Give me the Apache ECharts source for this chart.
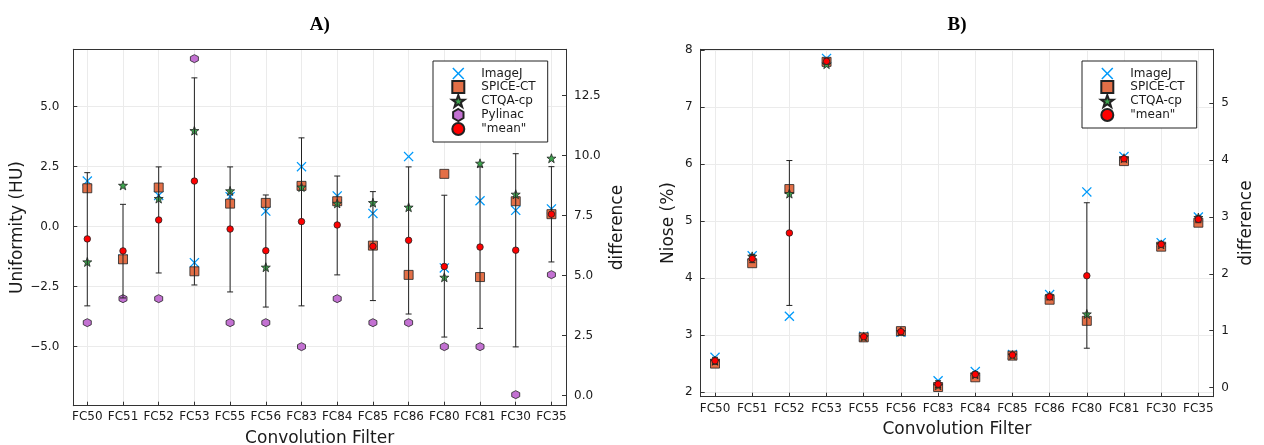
<!DOCTYPE html>
<html>
<head>
<meta charset="utf-8">
<script src="https://cdn.jsdelivr.net/npm/echarts@6/dist/echarts.min.js"></script>
<style>
html,body{margin:0;padding:0;background:#fff;}
#c{width:1264px;height:445px;}
</style>
</head>
<body>
<div id="c"></div>
<script>
// ---------- data ----------
const categories = ['FC50','FC51','FC52','FC53','FC55','FC56','FC83','FC84','FC85','FC86','FC80','FC81','FC30','FC35'];

// Panel A: uniformity (HU)
const imagejU  = [1.9, -1.35, 1.3, -1.5, 1.25, 0.65, 2.5, 1.28, 0.55, 2.92, -1.72, 1.08, 0.68, 0.74];
const spiceU   = [1.6, -1.36, 1.63, -1.86, 0.96, 0.99, 1.7, 1.06, -0.79, -2.01, 2.2, -2.1, 1.06, 0.52];
const ctqaU    = [-1.47, 1.72, 1.17, 4.0, 1.49, -1.69, 1.65, 0.97, 1.0, 0.81, -2.11, 2.64, 1.35, 2.85];
const pylinacU = [-4, -3, -3, 7, -4, -4, -5, -3, -4, -4, -5, -5, -7, -2];
const meanU    = [-0.51, -1.01, 0.28, 1.9, -0.1, -1.0, 0.21, 0.07, -0.82, -0.57, -1.66, -0.85, -0.98, 0.52];
const errLoU   = [-3.3, -2.97, -1.93, -2.43, -2.72, -3.35, -3.3, -2.01, -3.08, -3.64, -4.6, -4.24, -5.01, -1.47];
const errHiU   = [2.25, 0.93, 2.49, 6.2, 2.49, 1.32, 3.7, 2.11, 1.46, 2.49, 1.31, 2.49, 3.04, 2.5];

// Panel B: noise (%)
const imagejN = [2.61, 4.39, 3.33, 7.85, 2.98, 3.05, 2.2, 2.36, 2.66, 3.71, 5.51, 6.13, 4.62, 5.07];
const spiceN  = [2.50, 4.26, 5.56, 7.79, 2.96, 3.07, 2.09, 2.26, 2.64, 3.62, 3.25, 6.05, 4.55, 4.97];
const ctqaN   = [2.55, 4.38, 5.48, 7.75, 2.97, 3.06, 2.12, 2.31, 2.65, 3.69, 3.37, 6.1, 4.59, 5.06];
const meanN   = [2.55, 4.34, 4.79, 7.8, 2.97, 3.06, 2.14, 2.31, 2.65, 3.67, 4.04, 6.09, 4.59, 5.03];
const errLoN  = [2.49, 4.27, 3.52, 7.75, 2.96, 3.05, 2.08, 2.26, 2.64, 3.62, 2.77, 6.05, 4.55, 4.97];
const errHiN  = [2.61, 4.41, 6.06, 7.85, 2.98, 3.07, 2.2, 2.36, 2.66, 3.72, 5.32, 6.13, 4.63, 5.09];

// tick labels
const uniTicks   = [-5, -2.5, 0, 2.5, 5];
const diffTicksA = [0, 2.5, 5, 7.5, 10, 12.5];
const noiseTicks = [2, 3, 4, 5, 6, 7, 8];
const diffTicksB = [0, 1, 2, 3, 4, 5];

// ---------- styling ----------
const FONT = 'DejaVu Sans';
const AX = '#333';
const GRIDC = '#ebebeb';
const TXT = '#1a1a1a';
const NAMESIZE = 17;
const catIdx = categories.map((_, i) => i);
const X_SYM = 'path://M0,0.9L0.9,0L5,4.1L9.1,0L10,0.9L5.9,5L10,9.1L9.1,10L5,5.9L0.9,10L0,9.1L4.1,5Z';
const STAR = 'path://M50,0L61.76,33.82L97.55,34.55L69.02,56.18L79.39,90.45L50,70L20.61,90.45L30.98,56.18L2.45,34.55L38.24,33.82Z';
const HEX = 'path://M50,0L93.3,25L93.3,75L50,100L6.7,75L6.7,25Z';
const SQR = 'path://M0,0L10,0L10,10L0,10Z';

const minus = s => String(s).replace('-', '\u2212');
const fmt1 = v => minus(Number(v).toFixed(1));
const fmt0 = v => minus(Number(v).toFixed(0));

function pts(arr) { return arr.map((v, i) => [i, v]); }
function errs(lo, hi) { return lo.map((v, i) => [i, v, hi[i]]); }

function errRender(params, api) {
  const x = api.value(0);
  const p1 = api.coord([x, api.value(1)]);
  const p2 = api.coord([x, api.value(2)]);
  const c = 3;
  const st = {stroke: '#222', lineWidth: 1};
  return {type: 'group', children: [
    {type: 'line', shape: {x1: p1[0], y1: p1[1], x2: p2[0], y2: p2[1]}, style: st},
    {type: 'line', shape: {x1: p1[0]-c, y1: p1[1], x2: p1[0]+c, y2: p1[1]}, style: st},
    {type: 'line', shape: {x1: p2[0]-c, y1: p2[1], x2: p2[0]+c, y2: p2[1]}, style: st}
  ]};
}

function xAxisBottom(grid, min, max, margin, gap) {
  return {
    type: 'value', gridIndex: grid, position: 'bottom', min: min, max: max,
    axisLine: {show: true, onZero: false, lineStyle: {color: AX, width: 1}},
    axisTick: {show: true, inside: true, length: 4, customValues: catIdx, lineStyle: {color: AX}},
    axisLabel: {customValues: catIdx, formatter: v => categories[Math.round(v)], fontFamily: FONT, fontSize: 12, color: TXT, margin: margin},
    splitLine: {show: true, lineStyle: {color: GRIDC, width: 1}},
    name: 'Convolution Filter', nameLocation: 'middle', nameGap: gap,
    nameTextStyle: {fontFamily: FONT, fontSize: NAMESIZE, color: TXT}
  };
}
function xAxisTop(grid, min, max) {
  return {
    type: 'value', gridIndex: grid, position: 'top', min: min, max: max,
    axisLine: {show: true, onZero: false, lineStyle: {color: AX, width: 1}},
    axisTick: {show: false}, axisLabel: {show: false}, splitLine: {show: false}
  };
}
function yAxis(grid, pos, min, max, ticks, fmt, name, gap, split, margin) {
  return {
    type: 'value', gridIndex: grid, position: pos, min: min, max: max,
    axisLine: {show: true, onZero: false, lineStyle: {color: AX, width: 1}},
    axisTick: {show: true, inside: true, length: 4, customValues: ticks, lineStyle: {color: AX}},
    axisLabel: {customValues: ticks, formatter: fmt, fontFamily: FONT, fontSize: 12, color: TXT, margin: margin},
    splitLine: {show: split, lineStyle: {color: GRIDC, width: 1}},
    name: name, nameLocation: 'middle', nameGap: gap, nameRotate: 90,
    nameTextStyle: {fontFamily: FONT, fontSize: NAMESIZE, color: TXT}
  };
}

const stroke = {borderColor: '#222', borderWidth: 0.8, opacity: 1};
function sImageJ(d, xi, yi) { return {name: 'ImageJ', type: 'scatter', xAxisIndex: xi, yAxisIndex: yi, data: d, symbol: X_SYM, symbolSize: 10, itemStyle: {color: '#009AFA', opacity: 1}, z: 2}; }
function sSpice(d, xi, yi) { return {name: 'SPICE-CT', type: 'scatter', xAxisIndex: xi, yAxisIndex: yi, data: d, symbol: SQR, symbolSize: 9, itemStyle: Object.assign({color: '#E36F47'}, stroke), z: 2}; }
function sCtqa(d, xi, yi) { return {name: 'CTQA-cp', type: 'scatter', xAxisIndex: xi, yAxisIndex: yi, data: d, symbol: STAR, symbolSize: 9, itemStyle: Object.assign({color: '#3DA44D'}, stroke), z: 2}; }
function sPyl(d, xi, yi) { return {name: 'Pylinac', type: 'scatter', xAxisIndex: xi, yAxisIndex: yi, data: d, symbol: HEX, symbolSize: 8, itemStyle: Object.assign({color: '#C371D2'}, stroke), z: 2}; }
function sErr(d, xi, yi) { return {name: 'err', type: 'custom', xAxisIndex: xi, yAxisIndex: yi, data: d, renderItem: errRender, encode: {x: 0, y: [1, 2]}, z: 3}; }
function sMean(d, xi, yi) { return {name: '"mean"', type: 'scatter', xAxisIndex: xi, yAxisIndex: yi, data: d, symbol: 'circle', symbolSize: 6.5, itemStyle: Object.assign({color: '#FF0000'}, stroke), z: 4}; }

const legendBase = {
  orient: 'vertical', itemWidth: 14, itemHeight: 12, itemGap: 0,
  borderColor: '#222', borderWidth: 1, backgroundColor: '#fff', borderRadius: 0,
  selectedMode: false,
  textStyle: {fontFamily: FONT, fontSize: 12, lineHeight: 13, color: TXT, padding: [0, 0, 0, 11]}
};

const option = {
  animation: false,
  backgroundColor: '#fff',
  grid: [
    {left: 73.3, top: 49.3, width: 492.7, height: 356.4, outerBoundsMode: 'none', containLabel: false},
    {left: 700.7, top: 49.3, width: 512.6, height: 347.4, outerBoundsMode: 'none', containLabel: false}
  ],
  xAxis: [
    xAxisBottom(0, -0.392, 13.408, 5, 24),
    xAxisTop(0, -0.392, 13.408),
    xAxisBottom(1, -0.385, 13.402, 6, 24),
    xAxisTop(1, -0.385, 13.402)
  ],
  yAxis: [
    yAxis(0, 'left', -7.46, 7.39, uniTicks, fmt1, 'Uniformity (HU)', 44, true, 14),
    yAxis(0, 'right', -0.42, 14.43, diffTicksA, fmt1, 'difference', 43, false, 8),
    yAxis(1, 'left', 1.92, 8.01, noiseTicks, fmt0, 'Niose (%)', 24, true, 8),
    yAxis(1, 'right', -0.16, 5.95, diffTicksB, fmt0, 'difference', 25, false, 8)
  ],
  legend: [
    Object.assign({}, legendBase, {left: 433, top: 61, padding: [6, 12, 6, 18],
      data: ['ImageJ', 'SPICE-CT', 'CTQA-cp', 'Pylinac', '"mean"']}),
    Object.assign({}, legendBase, {left: 1082, top: 61, padding: [6, 12, 6, 18],
      data: ['ImageJ', 'SPICE-CT', 'CTQA-cp', '"mean"']})
  ],
  graphic: [
    {type: 'text', x: 319.7, y: 25, style: {text: 'A)', textAlign: 'center', textVerticalAlign: 'middle', font: 'bold 19px "Liberation Serif"', fill: '#000'}},
    {type: 'text', x: 957, y: 25, style: {text: 'B)', textAlign: 'center', textVerticalAlign: 'middle', font: 'bold 19px "Liberation Serif"', fill: '#000'}}
  ],
  series: [
    sImageJ(pts(imagejU), 0, 0),
    sSpice(pts(spiceU), 0, 0),
    sCtqa(pts(ctqaU), 0, 0),
    sPyl(pts(pylinacU), 0, 0),
    sErr(errs(errLoU, errHiU), 0, 0),
    sMean(pts(meanU), 0, 0),
    sImageJ(pts(imagejN), 2, 2),
    sSpice(pts(spiceN), 2, 2),
    sCtqa(pts(ctqaN), 2, 2),
    sErr(errs(errLoN, errHiN), 2, 2),
    sMean(pts(meanN), 2, 2)
  ]
};

const chart = echarts.init(document.getElementById('c'), null, {renderer: 'canvas'});
chart.setOption(option);
</script>
</body>
</html>
